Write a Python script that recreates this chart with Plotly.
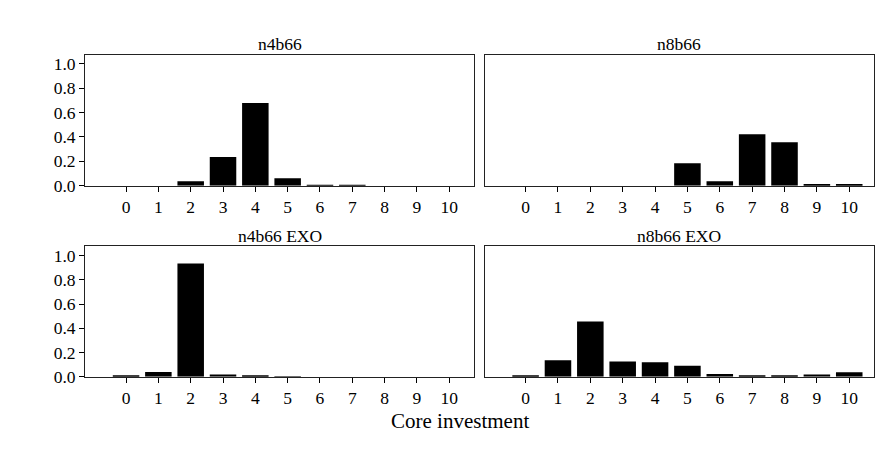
import plotly.graph_objects as go

# Core investment levels (x categories)
levels = list(range(11))

# Share of population at each core investment level, per treatment
n4b66 = [0.0, 0.0, 0.037, 0.235, 0.679, 0.061, 0.002, 0.008, 0.0, 0.0, 0.0]
n8b66 = [0.0, 0.0, 0.0, 0.0, 0.0, 0.184, 0.037, 0.422, 0.356, 0.013, 0.013]
n4b66_exo = [0.011, 0.040, 0.933, 0.019, 0.008, 0.002, 0.0, 0.0, 0.0, 0.0, 0.0]
n8b66_exo = [0.011, 0.136, 0.457, 0.126, 0.120, 0.091, 0.024, 0.005, 0.005, 0.019, 0.037]

panel_titles = ["n4b66", "n8b66", "n4b66 EXO", "n8b66 EXO"]
panel_data = [n4b66, n8b66, n4b66_exo, n8b66_exo]
x_title = "Core investment"
y_ticks = [0.0, 0.2, 0.4, 0.6, 0.8, 1.0]

W, H = 882, 449
FONT = "Liberation Serif"

# Panel boxes in pixels from the top-left corner: (left, right, top, bottom)
boxes = [
    (85, 474, 55, 189.3),
    (484.5, 874, 55, 189.3),
    (85, 474, 251.5, 385.3),
    (484.5, 874, 251.5, 385.3),
]

fig = go.Figure()
layout = dict(
    width=W, height=H,
    margin=dict(l=0, r=0, t=0, b=0),
    paper_bgcolor="white", plot_bgcolor="white",
    showlegend=False,
    font=dict(family=FONT, size=17.5, color="black"),
)
annotations = []

for i, (title, vals, box) in enumerate(zip(panel_titles, panel_data, boxes)):
    idx = "" if i == 0 else str(i + 1)
    l, r, t, b = box
    fig.add_trace(go.Bar(
        x=levels, y=vals,
        xaxis="x" + idx, yaxis="y" + idx,
        marker=dict(color="black", line=dict(width=0)),
        width=0.82,
    ))
    left_col = i in (0, 2)
    layout["xaxis" + idx] = dict(
        domain=[l / W, r / W],
        anchor="y" + idx,
        range=[-1.27, 10.765],
        tickmode="array", tickvals=levels, ticktext=[str(v) for v in levels],
        ticks="outside", ticklen=5, tickcolor="black",
        showline=True, linecolor="#222", linewidth=1, mirror=True,
        showgrid=False, zeroline=False,
        tickfont=dict(family=FONT, size=17.5, color="black"),
        fixedrange=True,
    )
    layout["yaxis" + idx] = dict(
        domain=[1 - b / H, 1 - t / H],
        anchor="x" + idx,
        range=[0, 1.075],
        tickmode="array", tickvals=y_ticks,
        ticktext=[f"{v:.1f}" for v in y_ticks],
        showticklabels=left_col,
        ticks="outside" if left_col else "",
        ticklen=5, tickcolor="black",
        showline=True, linecolor="#222", linewidth=1, mirror=True,
        showgrid=False, zeroline=False,
        tickfont=dict(family=FONT, size=17.5, color="black"),
        fixedrange=True,
    )
    annotations.append(dict(
        text=title, xref="paper", yref="paper",
        x=(l + r) / 2 / W, y=1 - (t - 11) / H,
        xanchor="center", yanchor="middle", showarrow=False,
        font=dict(family=FONT, size=17.5, color="black"),
    ))

annotations.append(dict(
    text=x_title, xref="paper", yref="paper",
    x=460 / W, y=1 - 431 / H,
    xanchor="center", yanchor="middle", showarrow=False,
    font=dict(family=FONT, size=21, color="black"),
))
layout["annotations"] = annotations

fig.update_layout(**layout)
fig.write_html("out.html")
